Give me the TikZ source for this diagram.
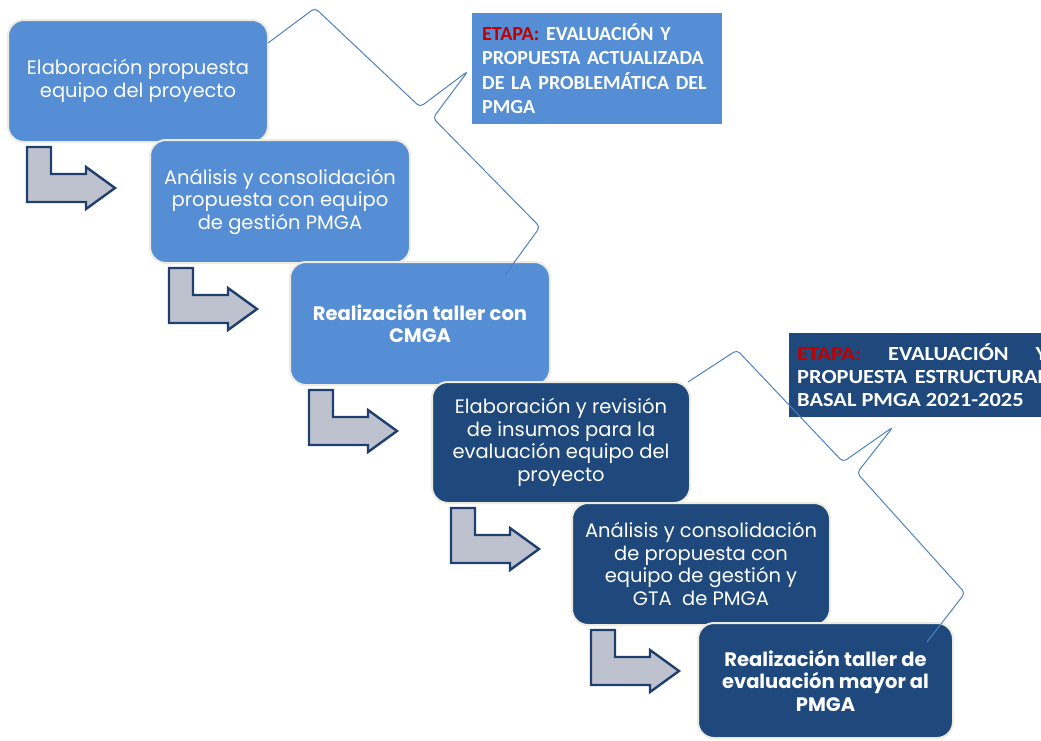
\documentclass[tikz,border=0pt]{standalone}
\usepackage{fontspec}
\setmainfont{Poppins}
\newfontfamily\etapaFont{Carlito}
\newfontfamily\etapaWideFont[FakeStretch = 1.12]{Carlito}
\tikzstyle{pixels} = [x = 1pt, y = -1pt]
\definecolor{lightBoxColor}{RGB}{85,142,213}
\definecolor{darkBoxColor}{RGB}{31,73,125}
\definecolor{arrowFillColor}{RGB}{190,194,206}
\definecolor{arrowLineColor}{RGB}{31,63,110}
\definecolor{braceColor}{RGB}{79,129,189}
\definecolor{etapaRed}{RGB}{192,0,0}
\definecolor{boxEdgeColor}{RGB}{238,236,225}
\tikzstyle{stepBox} = [rectangle, rounded corners = 16pt, draw = boxEdgeColor, line width = 2pt, text = white, align = center, inner sep = 0pt, font = \fontsize{19.5}{22.5}\selectfont]
\tikzstyle{lightBox} = [stepBox, fill = lightBoxColor]
\tikzstyle{darkBox} = [stepBox, fill = darkBoxColor]
\tikzstyle{boldText} = [font = \bfseries\fontsize{19.5}{22.5}\selectfont]
\tikzstyle{arrowStyle} = [fill = arrowFillColor, draw = arrowLineColor, line width = 2.4pt, line join = miter]
\tikzstyle{braceLine} = [draw = braceColor, line width = 1pt, rounded corners = 4pt]
\tikzstyle{etapaBox} = [rectangle, anchor = north west, text = white, inner xsep = 10pt, inner ysep = 0pt, font = \etapaFont\bfseries\fontsize{20}{24.5}\selectfont]
\newcommand{\bentArrow}[1]{\filldraw [arrowStyle, shift = {(#1.south west)}] (20,4) -- (44,4) -- (44,31) -- (79,31) -- (79,24) -- (108,45) -- (79,66) -- (79,59) -- (20,59) -- cycle;}
\newcommand{\etapa}{\textcolor{etapaRed}{ETAPA:}}

\begin{document}
\begin{tikzpicture}[pixels]
  \useasboundingbox (0,0) rectangle (1041,740);
  % first stage
  \node [lightBox, minimum width = 260pt, minimum height = 122pt] (boxOne) at (138,81) {Elaboración propuesta\\equipo del proyecto};
  \bentArrow{boxOne}
  \node [lightBox, minimum width = 260pt, minimum height = 123pt] (boxTwo) at (280,201.5) {Análisis y consolidación\\propuesta con equipo\\de gestión PMGA};
  \bentArrow{boxTwo}
  \node [lightBox, boldText, minimum width = 260pt, minimum height = 123pt] (boxThree) at (420,323.5) {Realización taller con\\CMGA};
  \bentArrow{boxThree}
  % second stage
  \node [darkBox, minimum width = 258pt, minimum height = 121pt] (boxFour) at (561,442.5) {Elaboración y revisión\\de insumos para la\\evaluación equipo del\\proyecto};
  \bentArrow{boxFour}
  \node [darkBox, minimum width = 258pt, minimum height = 122pt] (boxFive) at (701,564) {Análisis y consolidación\\de propuesta con\\equipo de gestión y\\GTA\ \ de PMGA};
  \bentArrow{boxFive}
  \node [darkBox, boldText, minimum width = 255pt, minimum height = 115pt] (boxSix) at (825.5,680.5) {Realización taller de\\evaluación mayor al\\PMGA};
  % stage labels
  \node [etapaBox, fill = lightBoxColor, minimum height = 111pt, text width = 230pt, align = left] (etapaOne) at (472,13) {\etapa{} EVALUACIÓN Y\\PROPUESTA ACTUALIZADA\\DE LA PROBLEMÁTICA DEL\\PMGA};
  \node [etapaBox, fill = darkBoxColor, minimum height = 84pt, inner xsep = 8pt, text width = 250pt, align = justify, font = \etapaWideFont\bfseries\fontsize{20}{23}\selectfont] (etapaTwo) at (789,333) {\hyphenpenalty=10000\exhyphenpenalty=10000 \etapa{} EVALUACIÓN Y\linebreak PROPUESTA ESTRUCTURAL\linebreak BASAL PMGA 2021-2025};
  % braces
  \draw [braceLine] (268,43) -- (315,8) -- (420,107) -- (468,71) -- (433,118) -- (540,227) -- (505,275);
  \draw [braceLine] (688,382) -- (737,350) -- (843,462) -- (893,427) -- (857,473) -- (965,593) -- (927,642);
\end{tikzpicture}
\end{document}
